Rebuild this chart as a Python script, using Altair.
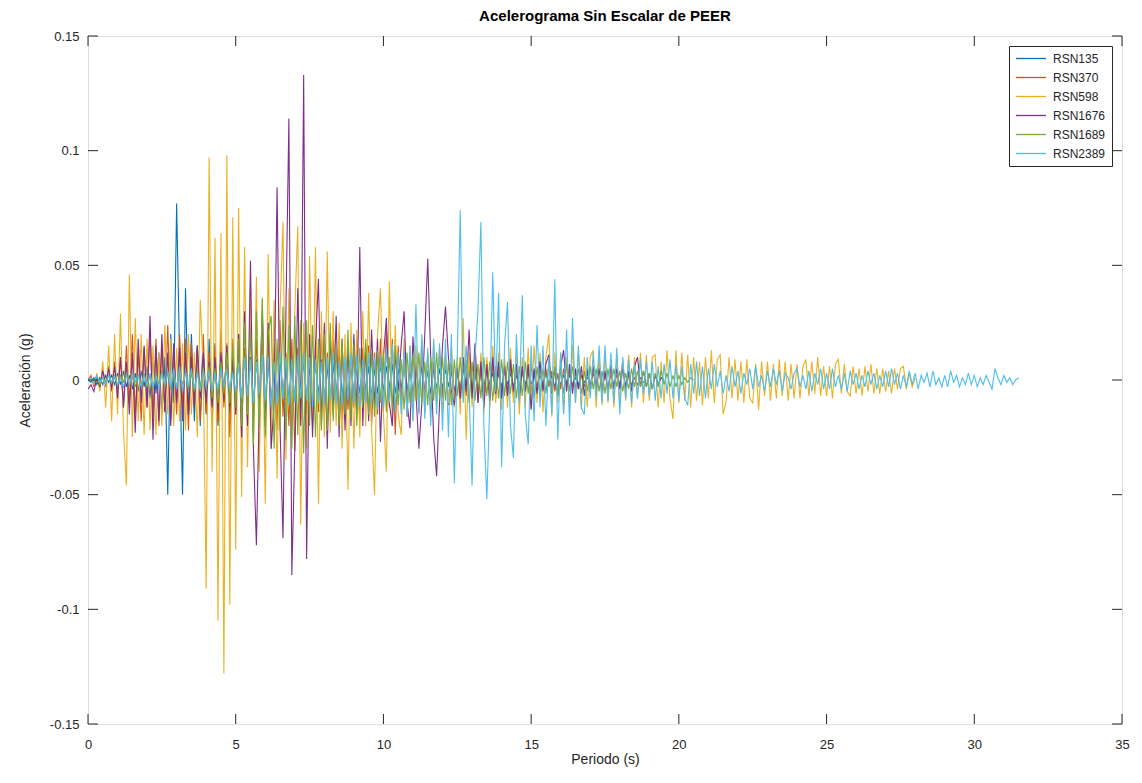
import altair as alt
import pandas as pd

# sampling interval of the records (s)
DT = 0.1

NAMES = ["RSN135", "RSN370", "RSN598", "RSN1676", "RSN1689", "RSN2389"]
COLORS = ["#0072BD", "#D95319", "#EDB120", "#7E2F8E", "#77AC30", "#4DBEEE"]

X_TICKS = [0, 5, 10, 15, 20, 25, 30, 35]
Y_TICKS = [-0.15, -0.1, -0.05, 0, 0.05, 0.1, 0.15]

# accelerations in thousandths of g, one sample every DT seconds
RSN135 = [
    0, -1, 1, -2, 1, -2, 2, -1, 2, -2,
    3, -2, 4, -3, 2, -4, 3, -5, 4, -3,
    6, -8, 10, -6, 12, -15, 10, -50, 20, -10,
    77, 10, -50, 40, -15, 20, -18, 15, -20, 12,
    -15, 18, -12, 16, -20, 14, -10, 12, -15, 10,
    -12, 14, -10, 12, -8, 10, -12, 9, -8, 11,
    -9, 8, -10, 7, -8, 9, -7, 8, -9, 6,
    -8, 10, -6, 8, -9, 7, -10, 8, -7, 9,
    -8, 6, -9, 7, -6, 8, -7, 5, -8, 6,
    -7, 5, -6, 8, -5, 6, -7, 5, -6, 7,
    -5, 6, -4, 7, -6, 5, -4, 6, -5, 4,
    -6, 5, -4, 6, -5, 4, -6, 5, -4, 5,
    -4, 5, -3, 4, -5, 3, -4, 5, -3, 4,
    -4, 3, -5, 4, -3, 4, -2, 3, -4, 3,
    -3, 4, -2, 3, -3, 2, -3, 4, -2, 3,
    -2, 3, -3, 2, -2, 3, -2, 2, -3, 2,
    -2, 2, -1, 2, -2, 1, -2, 2, -1, 1,
    0,
]

RSN370 = [
    0, 2, -3, 2, -4, 5, -3, 6, -5, 8,
    -6, 10, -12, 15, -10, 20, -15, 12, -18, 14,
    -12, 22, -16, 18, -20, 15, -14, 24, -18, 12,
    -15, 20, -12, 18, -22, 16, -10, 14, -18, 20,
    -14, 12, -20, 15, -18, 22, -12, 16, -25, 18,
    -15, 20, -22, 14, -18, 25, -15, 18, -20, 16,
    -24, 20, -18, 15, -22, 26, -16, 12, -20, 18,
    -31, 14, -18, 20, -15, 12, -18, 16, -14, 20,
    -16, 12, -15, 18, -12, 14, -17, 10, -13, 15,
    -12, 16, -18, 14, -10, 15, -20, 12, -15, 18,
    -14, 22, -12, 18, -24, 15, -10, 14, -16, 12,
    -12, 10, -14, 12, -9, 11, -13, 8, -10, 12,
    -8, 10, -11, 7, -9, 8, -10, 9, -7, 8,
    -8, 7, -9, 6, -7, 8, -6, 7, -8, 6,
    -6, 7, -5, 6, -7, 5, -6, 4, -5, 6,
    -5, 4, -6, 5, -4, 5, -3, 4, -5, 3,
    -4, 5, -3, 4, -3, 3, -4, 2, -3, 3,
    -2, 3, -2, 8, -3, 2, -3, 2, -2, 2,
    -2, 8, -5, 2, -2, 1, -2, 1, -1, 0,
]

RSN598 = [
    0, 1, -2, 3, -5, 8, -12, 15, -18, 20,
    -15, 29, -22, -46, 46, -25, 27, -18, 20, -24,
    18, -22, 15, -24, 12, -20, 24, -15, 18, -20,
    14, -18, 16, -22, 20, -15, 12, -25, 35, 5,
    -91, 97, -40, 62, -105, 64, -128, 98, -98, 71,
    -74, 75, -51, 58, -38, 40, -30, 45, -40, 35,
    -54, 55, -30, 35, -43, 30, 69, -35, 40, -25,
    30, 67, -63, 25, -30, 54, -20, 58, -54, 30,
    -25, 56, -23, 30, -20, 25, -30, 20, -48, 25,
    -30, 22, -25, 30, -20, 38, -22, -50, 20, 40,
    -15, -40, 43, -20, 24, -15, -24, 18, -15, 15,
    -18, 15, -12, 18, -15, 12, -14, 16, -10, 14,
    -15, 12, -10, 15, -12, 10, -15, 27, -26, 12,
    -12, 15, -10, 12, -14, 10, -12, 15, -10, 12,
    -13, 10, -12, 14, -10, 12, -15, 10, -12, 14,
    -12, 15, -10, 12, -14, 10, 20, -16, 12, -10,
    12, -14, 10, -12, 15, -10, 12, -13, 10, -12,
    10, 13, -12, 10, -11, 12, -10, 9, -12, 10,
    -10, 8, -9, 11, -12, 10, -8, 12, -10, 11,
    -9, 10, 11, -12, 8, -10, 13, -8, -17, 13,
    -10, 12, -9, 11, -12, 10, -9, 8, -11, 10,
    -8, 13, -10, 9, 11, -15, -9, 10, -8, 9,
    -9, 8, -10, 9, -8, -10, 7, -13, 8, -7,
    8, -9, 7, -8, 9, -7, 8, -9, 7, -8,
    7, -8, 6, 9, -7, 8, -6, 10, -7, 6,
    -7, 6, -8, 7, 9, -6, 7, -5, -7, 6,
    -6, 5, -7, 6, -5, 7, -6, 5, -6, 5,
    -5, 4, -6, 5, -4, 5, 6, -4, 3, -3,
    1,
]

RSN1676 = [
    -4, -2, -5, 1, -3, 4, -2, 5, -4, 6,
    -8, 10, -12, 8, -15, 12, -23, 18, -10, 15,
    -12, 28, -26, 15, -18, 20, -14, 12, -20, 16,
    -10, 14, -18, 12, -15, 10, -12, 15, -8, 12,
    -10, 8, -12, 10, -14, 12, -9, 15, -12, 10,
    -15, 20, -25, 30, -20, 52, -30, -72, -10, 30,
    -20, 25, -30, -10, 84, -20, -69, 30, 114, -85,
    -30, 40, -20, 133, -78, 20, -25, 15, 44, -20,
    25, -30, 20, -15, 28, -25, 18, -22, 15, -20,
    20, -15, 58, -20, 15, -18, 22, -12, 18, -27,
    10, 27, -10, -20, 12, -5, 15, 30, -10, -21,
    19, -5, -30, -10, 20, 53, 10, -25, -42, -10,
    15, 32, 10, -5, -11, 5, -8, 10, -5, 22,
    -8, 16, -10, 8, -12, 7, -9, 10, -6, 8,
    -8, 6, -7, 9, -5, 7, -8, 6, -5, 7,
    -13, 5, -6, 8, -5, 7, 11, -6, 5, -7,
    6, 13, -5, 7, -6, 5, -4, 6, -7, 5,
    -5, 6, -4, 5, -6, 4, -5, 6, -4, 5,
    -4, 5, -3, 4, -5, 6, 10, -3, 4, -3,
    3, -4, 2, -2, 1, 0,
]

RSN1689 = [
    0, 1, -1, 1, -2, 1, -1, 2, -1, 1,
    -2, 2, -1, 3, -2, 2, -3, 2, -2, 3,
    -3, 2, -4, 3, -2, 4, -3, 3, -4, 2,
    -3, 4, -2, 3, -4, 3, -5, 4, -3, 5,
    -4, 6, -8, 5, -10, 8, -6, 12, -10, 15,
    -12, 18, -20, 25, -15, 22, -28, 30, -20, 36,
    -25, 20, 28, -30, 18, -22, 32, -26, 24, -30,
    28, -24, 26, -32, 26, -20, 24, -25, 18, -22,
    20, -22, 25, -18, 15, -20, 18, -15, 22, -17,
    16, -20, 14, -12, 18, -15, 12, -16, 13, -10,
    12, -14, 10, -12, 15, -11, 9, -13, 12, -10,
    11, -9, 12, -10, 8, -11, 10, -9, 12, -8,
    10, -9, 8, -11, 9, -7, 10, -8, 9, -10,
    8, -9, 7, -8, 10, -7, 8, -9, 6, -8,
    9, -7, 8, -6, 7, -8, 6, -7, 8, -6,
    7, -8, 6, -7, 5, -6, 8, -5, 6, -7,
    5, -6, 7, -5, 6, -4, 5, -6, 4, -5,
    6, -4, 5, -5, 4, -6, 5, -4, 5, -3,
    4, -5, 3, -4, 5, -3, 4, -3, 4, -3,
    3, -4, 3, -3, 4, -2, 3, -3, 2, -3,
    2, -2, 1, -1, 1, 0,
]

RSN2389 = [
    0, 1, -1, 2, -1, 1, -2, 2, -1, 2,
    -2, 1, -3, 2, -2, 3, -1, 2, -3, 2,
    -2, 3, -3, 2, -4, 3, -2, 4, -3, 5,
    -4, 6, -5, 4, -3, 5, -4, 3, -5, 4,
    -3, 4, -5, 3, -4, 5, -3, 4, -4, 3,
    -5, 6, -8, 10, -7, 9, -10, 8, -6, 11,
    -9, 10, -12, 8, -10, 12, -8, 10, -11, 9,
    -10, 11, -8, 12, -9, 10, -12, 9, -10, 8,
    -11, 10, -9, 12, -10, 8, -11, 10, -9, 12,
    -10, 11, -12, 9, -10, 12, -11, 10, -13, 11,
    -12, 14, -10, 16, -14, 12, -15, 13, -16, 15,
    -18, 33, -15, 20, -17, 14, -20, 18, -15, 16,
    -22, 18, -25, 20, -45, 10, 74, -10, 15, -5,
    -46, 10, 30, 69, -20, -52, -10, 47, -5, 38,
    -38, 15, 34, -20, -34, 20, -10, 37, -15, -28,
    15, -18, 24, -12, 15, -20, 10, -15, 44, -26,
    12, -15, 22, -20, 27, -10, 15, -12, -15, 10,
    -8, 12, -8, 15, -10, 15, -9, 12, -10, 14,
    -15, 10, -8, 9, -10, 7, -8, 9, -6, 8,
    -7, 8, -9, 6, -8, 7, -6, 9, -8, 7,
    -9, 6, -8, -11, 7, -6, 8, -7, 6, -8,
    5, -4, 7, -3, 4, -6, 2, -5, 6, -3,
    4, -6, 3, -2, 5, -4, 6, -3, 2, -5,
    4, -3, 5, -2, 4, -5, 3, 1, -4, 3,
    5, -3, 2, -4, 4, -5, 3, -2, 5, -4,
    3, -4, 5, -3, 2, -4, 3, -5, 4, -2,
    3, -4, 2, -3, 4, -2, 3, -4, 2, -3,
    4, -3, 5, -2, 3, -4, 2, -3, 4, -2,
    3, -4, 2, -1, 3, -3, 4, -2, 1, -3,
    2, -3, 4, -1, 2, -3, 1, -2, 3, -2,
    2, -3, 1, -2, 2, -1, -4, 5, 1, -2,
    2, -1, 1, -2, 0, 1,
]

SERIES = [RSN135, RSN370, RSN598, RSN1676, RSN1689, RSN2389]

W, H = 1034, 688
TICK_LEN = 10
FONT = "Liberation Sans"
INK = "#262626"

x_enc = alt.X(
    "t:Q",
    scale=alt.Scale(domain=[0, 35], nice=False, zero=False),
    axis=alt.Axis(values=X_TICKS, title="Periodo (s)", ticks=False, domain=False,
                  grid=False, labelPadding=14, labelFontSize=13, titleFontSize=14,
                  titlePadding=1, labelFont=FONT, titleFont=FONT, labelColor=INK,
                  titleColor=INK, titleFontWeight="normal", labelFlush=False),
)
y_enc = alt.Y(
    "a:Q",
    scale=alt.Scale(domain=[-0.15, 0.15], nice=False, zero=False),
    axis=alt.Axis(values=Y_TICKS, title="Aceleración (g)", ticks=False, domain=False,
                  grid=False, labelPadding=9, labelFontSize=13, titleFontSize=14,
                  titlePadding=17, labelFont=FONT, titleFont=FONT, labelColor=INK,
                  titleColor=INK, titleFontWeight="normal", labelFlush=False,
                  labelExpr="'' + datum.value"),
)

color_enc_kwargs = dict(
    scale=alt.Scale(domain=NAMES, range=COLORS),
    legend=alt.Legend(
        title=None, orient="none", legendX=921, legendY=10, direction="vertical",
        symbolType="stroke", symbolSize=900, symbolStrokeWidth=1.3, clipHeight=13,
        rowPadding=6, labelFont=FONT, labelFontSize=12, labelColor=INK,
        fillColor="white", strokeColor=INK, padding=6, labelOffset=6,
    ),
)

layers = []
for name, vals in zip(NAMES, SERIES):
    df = pd.DataFrame({
        "t": [i * DT for i in range(len(vals))],
        "a": [v / 1000 for v in vals],
        "serie": name,
    })
    layers.append(
        alt.Chart(df).mark_line(strokeWidth=1.1, clip=True).encode(
            x=x_enc, y=y_enc,
            color=alt.Color("serie:N", **color_enc_kwargs),
        )
    )

xt = pd.DataFrame({"t": X_TICKS})
yt = pd.DataFrame({"a": Y_TICKS})
tick_style = dict(color=INK, strokeWidth=1)
ticks = [
    alt.Chart(xt).mark_rule(**tick_style).encode(x=x_enc, y=alt.value(H - TICK_LEN), y2=alt.value(H)),
    alt.Chart(xt).mark_rule(**tick_style).encode(x=x_enc, y=alt.value(0), y2=alt.value(TICK_LEN)),
    alt.Chart(yt).mark_rule(**tick_style).encode(y=y_enc, x=alt.value(0), x2=alt.value(TICK_LEN)),
    alt.Chart(yt).mark_rule(**tick_style).encode(y=y_enc, x=alt.value(W - TICK_LEN), x2=alt.value(W)),
]

chart = alt.layer(*layers, *ticks).properties(
    width=W,
    height=H,
    autosize=alt.AutoSizeParams(type="none"),
    padding={"left": 80, "top": 28, "right": 12, "bottom": 44},
    title=alt.Title("Acelerograma Sin Escalar de PEER", font=FONT, fontSize=15,
                    fontWeight="bold", color="#000000", anchor="middle", offset=6),
).configure_view(stroke=INK, strokeWidth=1).configure(background="white")

chart.save("out.html", embed_options={"renderer": "svg", "actions": False})
